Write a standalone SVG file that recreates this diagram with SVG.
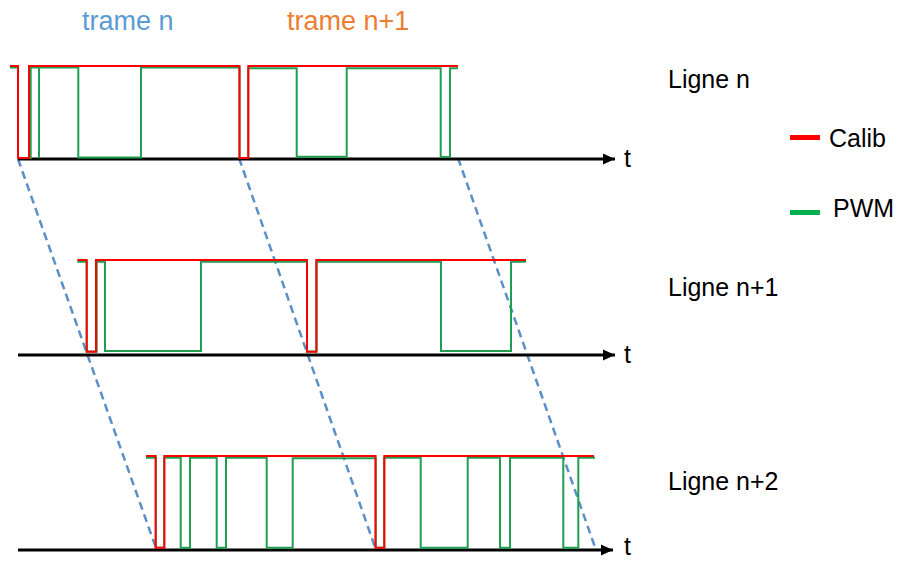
<svg xmlns="http://www.w3.org/2000/svg" width="901" height="561" viewBox="0 0 901 561">
<style>
  .lbl { font-family: "Liberation Sans", Arial, sans-serif; font-size: 25px; fill: #000; }
  .ttl { font-family: "Liberation Sans", Arial, sans-serif; font-size: 27px; }
  .red { fill: none; stroke: #ff0000; stroke-width: 2; stroke-linejoin: miter; }
  .grn { fill: none; stroke: #1f9e50; stroke-width: 2; stroke-linejoin: miter; }
  .axis { fill: none; stroke: #000; stroke-width: 3; }
  .dash { fill: none; stroke: #5b8fc9; stroke-width: 2.5; stroke-dasharray: 8 5; }
</style>
<defs>
  <marker id="arrow" markerUnits="userSpaceOnUse" markerWidth="14" markerHeight="12" refX="12" refY="6" orient="auto">
    <path d="M0,0.5 L12,6 L0,11.5 Z" fill="#000"/>
  </marker>
</defs>
<rect width="901" height="561" fill="#fff"/>

<g id="titles">
  <text class="ttl" x="82" y="30" fill="#5b9bd5">trame n</text>
  <text class="ttl" x="287" y="30" fill="#ed7d31">trame n+1</text>
</g>

<g id="connectors">
  <line class="dash" x1="18" y1="159" x2="156" y2="548"/>
  <line class="dash" x1="239" y1="158" x2="376" y2="550"/>
  <line class="dash" x1="458" y1="158" x2="596" y2="550"/>
</g>

<g id="row-n">
  <line class="axis" x1="18" y1="159" x2="615" y2="159" marker-end="url(#arrow)"/>
  <path class="grn" d="M10,67.5 H18 V158 H30.7 V67.5 H39 V158 V67.5 H78.3 V157.5 H141 V67.5 H239.5 V158 H248.3 V68.3 H296.7 V156.7 H346.7 V68.3 H440.7 V157 H450 V68.3 H458"/>
  <path class="red" d="M10,66 H18 V158 H29 V66 H239.5 V158 H248.3 V66 H458"/>
  <text class="lbl" x="624" y="167">t</text>
  <text class="lbl" x="668" y="88">Ligne n</text>
</g>

<g id="row-n1">
  <line class="axis" x1="18" y1="355" x2="615" y2="355" marker-end="url(#arrow)"/>
  <path class="grn" d="M77.3,261.7 H86.7 V351.5 H96.7 V261.7 H105 V351 H201 V261.7 H307 V351.5 H316.7 V261.7 H441 V351 H511 V261.7 H526"/>
  <path class="red" d="M77.3,260 H86.7 V351.7 H96 V260 H307 V351.7 H316.3 V260 H526"/>
  <text class="lbl" x="624" y="363">t</text>
  <text class="lbl" x="668" y="296">Ligne n+1</text>
</g>

<g id="row-n2">
  <line class="axis" x1="18" y1="550" x2="613" y2="550" marker-end="url(#arrow)"/>
  <path class="grn" d="M146,457.7 H155.7 V547.7 H164.3 V457.7 H180.7 V547.7 H190 V457.7 H216.7 V547.7 H226 V457.7 H266.7 V547.7 H292.7 V458.3 H375.7 V547.7 H384.3 V457.7 H420.7 V547.7 H467.7 V457.7 H500 V547.7 H510 V457.7 H563.3 V547.7 H578.3 V457.7 H595"/>
  <path class="red" d="M146,456 H155.7 V547.7 H164.3 V456 H375.5 V547.7 H384.3 V456 H594"/>
  <text class="lbl" x="624" y="555">t</text>
  <text class="lbl" x="668" y="490">Ligne n+2</text>
</g>

<g id="legend-calib">
  <line x1="790" y1="137.5" x2="820" y2="137.5" stroke="#ff0000" stroke-width="5"/>
  <text class="lbl" x="829" y="147">Calib</text>
</g>
<g id="legend-pwm">
  <line x1="790" y1="212.5" x2="820" y2="212.5" stroke="#00b050" stroke-width="5"/>
  <text class="lbl" x="833" y="217">PWM</text>
</g>
</svg>
